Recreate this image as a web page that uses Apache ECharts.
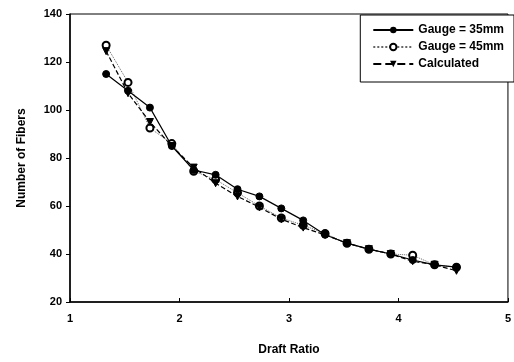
<!DOCTYPE html>
<html><head><meta charset="utf-8">
<script src="https://cdn.jsdelivr.net/npm/echarts@6/dist/echarts.min.js"></script>
<style>html,body{margin:0;padding:0;background:#fff}#c{width:514px;height:362px}</style>
</head><body><div id="c"></div>
<script>
const draftRatio = [1.33,1.53,1.73,1.93,2.13,2.33,2.53,2.73,2.93,3.13,3.33,3.53,3.73,3.93,4.13,4.33,4.53];
const gauge35 = [115,108,101,85,75,73,67,64,59,54,48,44.5,42,40,37.5,35.5,34.5];
const gauge45 = [127,111.5,92.5,86,74.5,71,65.5,60,55,52,48.5,44.5,42,40,39.5,35.5,34.5];
const calculated = [124.5,107,95,85,76,69.5,64,59.5,54.5,51,48,44.5,42,40,37,35.5,33];
const xTicks = [1,2,3,4,5];
const yTicks = [20,40,60,80,100,120,140];

const pairs = ys => draftRatio.map((x,i)=>[x, ys[i]]);
const font = {fontFamily:'Liberation Sans, Arial, sans-serif', fontWeight:'bold', color:'#000', fontSize:11};
const chart = echarts.init(document.getElementById('c'));
chart.setOption({
  animation:false,
  grid:{left:70, right:4, top:14, bottom:60, show:true, borderColor:'#000', borderWidth:1},
  xAxis:{type:'value', min:xTicks[0], max:xTicks[xTicks.length-1], interval:1,
    name:'Draft Ratio', nameLocation:'middle', nameGap:42,
    nameTextStyle:Object.assign({}, font, {fontSize:12}),
    axisLine:{lineStyle:{color:'#000', width:1.5}},
    axisTick:{inside:true, length:4, lineStyle:{color:'#000'}},
    axisLabel:Object.assign({}, font, {margin:11}),
    splitLine:{show:false}},
  yAxis:{type:'value', min:yTicks[0], max:yTicks[yTicks.length-1], interval:20,
    name:'Number of Fibers', nameLocation:'middle', nameGap:42,
    nameTextStyle:Object.assign({}, font, {fontSize:12}),
    axisLine:{show:true, lineStyle:{color:'#000', width:1.5}},
    axisTick:{show:true, length:4, lineStyle:{color:'#000'}},
    axisLabel:Object.assign({}, font, {margin:8}),
    splitLine:{show:false}},
  legend:{right:0, top:15, orient:'vertical', itemWidth:40, itemHeight:8, itemGap:5,
    borderColor:'#000', borderWidth:1, padding:[9,10,12,12], backgroundColor:'#fff',
    textStyle:Object.assign({}, font, {fontSize:12}),
    data:['Gauge = 35mm','Gauge = 45mm','Calculated']},
  series:[
    {name:'Gauge = 45mm', type:'line', data:pairs(gauge45), symbol:'emptyCircle', symbolSize:7,
      lineStyle:{color:'#666', width:1, type:'dotted'}, itemStyle:{color:'#000', borderColor:'#000', borderWidth:1.2}},
    {name:'Gauge = 35mm', type:'line', data:pairs(gauge35), symbol:'circle', symbolSize:7,
      lineStyle:{color:'#000', width:1.2, type:'solid'}, itemStyle:{color:'#000', borderColor:'#000'}},
    {name:'Calculated', type:'line', data:pairs(calculated), symbol:'triangle', symbolRotate:180, symbolSize:7,
      lineStyle:{color:'#000', width:1.2, type:'dashed'}, itemStyle:{color:'#000', borderColor:'#000'}}
  ]
});
</script></body></html>
